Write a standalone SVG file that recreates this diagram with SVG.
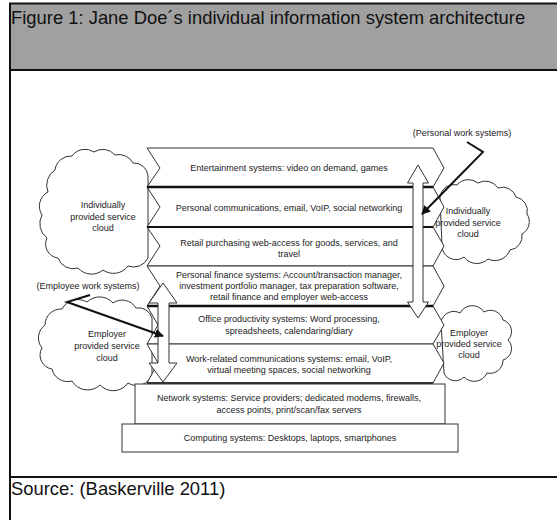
<svg xmlns="http://www.w3.org/2000/svg" width="557" height="520" viewBox="0 0 557 520">
<defs>
<style>
.t{font-family:"Liberation Sans",Arial,sans-serif;font-size:9px;fill:#222;text-anchor:middle}
.big{font-family:"Liberation Sans",Arial,sans-serif;font-size:18.4px;fill:#111}
.layer{fill:#fff;stroke:#333;stroke-width:1}
.cloud{fill:#fff;stroke:#333;stroke-width:1}
.hollow{fill:#fff;stroke:#333;stroke-width:1}
.conn{fill:none;stroke:#111;stroke-width:2}
</style>
<marker id="ah" viewBox="0 0 10 10" refX="9" refY="5" markerWidth="4.5" markerHeight="4.5" orient="auto" markerUnits="strokeWidth">
<path d="M0,0 L10,5 L0,10 z" fill="#111"/>
</marker>
</defs>
<rect width="557" height="520" fill="#fff"/>
<g id="frame">
<rect x="10" y="4" width="547" height="66" fill="#a0a0a0"/>
<line x1="9" y1="3.5" x2="557" y2="3.5" stroke="#111" stroke-width="2"/>
<line x1="9" y1="70" x2="557" y2="70" stroke="#111" stroke-width="2"/>
<line x1="9" y1="477" x2="557" y2="477" stroke="#111" stroke-width="2"/>
<line x1="10" y1="3" x2="10" y2="520" stroke="#111" stroke-width="2"/>
<text class="big" x="11" y="24">Figure 1: Jane Doe´s individual information system architecture</text>
<text class="big" x="11" y="495">Source: (Baskerville 2011)</text>
</g>
<g id="cloud-ind-left">
<path class="cloud" d="M47,238 A18,18 0 0 1 42,215 A16,16 0 0 1 48,192 A18,18 0 0 1 55,170 A16,16 0 0 1 72,156 A16,16 0 0 1 94,152 A16,16 0 0 1 115,155 A16,16 0 0 1 133,163 A14,14 0 0 1 148,176 L148,258 A16,16 0 0 1 128,266 A18,18 0 0 1 103,270 A18,18 0 0 1 78,268 A16,16 0 0 1 58,258 A14,14 0 0 1 47,238 Z"/>
<text class="t" x="103" y="208">Individually</text>
<text class="t" x="103" y="220">provided service</text>
<text class="t" x="103" y="231">cloud</text>
</g>
<g id="cloud-ind-right">
<path class="cloud" d="M440,197 A14,14 0 0 1 457,185 A15,15 0 0 1 478,183 A15,15 0 0 1 498,188 A14,14 0 0 1 516,197 A14,14 0 0 1 527,214 A14,14 0 0 1 522,234 A14,14 0 0 1 510,250 A16,16 0 0 1 488,259 A16,16 0 0 1 464,257 A14,14 0 0 1 442,246 Z"/>
<text class="t" x="468" y="214">Individually</text>
<text class="t" x="468" y="226">provided service</text>
<text class="t" x="468" y="237">cloud</text>
</g>
<g id="cloud-emp-left">
<path class="cloud" d="M42,348 A16,16 0 0 1 45,325 A16,16 0 0 1 62,309 A18,18 0 0 1 87,302 A18,18 0 0 1 113,303 A16,16 0 0 1 136,308 A14,14 0 0 1 152,318 L152,374 A16,16 0 0 1 128,383 A18,18 0 0 1 100,385 A18,18 0 0 1 72,381 A16,16 0 0 1 52,369 A14,14 0 0 1 42,348 Z"/>
<text class="t" x="107" y="337">Employer</text>
<text class="t" x="107" y="349">provided service</text>
<text class="t" x="107" y="361">cloud</text>
</g>
<g id="cloud-emp-right">
<path class="cloud" d="M441,322 A13,13 0 0 1 460,313 A14,14 0 0 1 484,312 A13,13 0 0 1 503,320 A12,12 0 0 1 508,340 A12,12 0 0 1 503,360 A13,13 0 0 1 487,373 A14,14 0 0 1 464,377 A12,12 0 0 1 444,373 Z"/>
<text class="t" x="469" y="336">Employer</text>
<text class="t" x="469" y="347">provided service</text>
<text class="t" x="469" y="358">cloud</text>
</g>
<g id="layer-entertainment">
<polygon class="layer" points="147,148 433,148 444,168 433,187 147,187 160,168"/>
<text class="t" x="289" y="171">Entertainment systems: video on demand, games</text>
</g>
<g id="layer-personal-comms">
<polygon class="layer" points="147,187 433,187 444,207 433,227 147,227 160,207"/>
<text class="t" x="289" y="211">Personal communications, email, VoIP, social networking</text>
</g>
<g id="layer-retail">
<polygon class="layer" points="147,227 433,227 444,246 433,266 147,266 160,246"/>
<text class="t" x="289" y="246">Retail purchasing web-access for goods, services, and</text>
<text class="t" x="289" y="257">travel</text>
</g>
<g id="layer-finance">
<polygon class="layer" points="147,266 433,266 444,286 433,306 147,306 160,286"/>
<text class="t" x="289" y="278">Personal finance systems: Account/transaction manager,</text>
<text class="t" x="289" y="289">investment portfolio manager, tax preparation software,</text>
<text class="t" x="289" y="300">retail finance and employer web-access</text>
</g>
<g id="layer-office">
<polygon class="layer" points="147,306 433,306 444,325 433,344 147,344 158,325"/>
<text class="t" x="289" y="322">Office productivity systems: Word processing,</text>
<text class="t" x="289" y="334">spreadsheets, calendaring/diary</text>
</g>
<g id="layer-work">
<polygon class="layer" points="147,344 433,344 444,363 433,383 147,383 158,363"/>
<text class="t" x="289" y="362">Work-related communications systems: email, VoIP,</text>
<text class="t" x="289" y="373">virtual meeting spaces, social networking</text>
</g>
<g id="separators" stroke="#111" fill="none">
<line x1="147" y1="187" x2="433" y2="187" stroke-width="2.5"/>
<line x1="147" y1="227" x2="433" y2="227" stroke-width="1.8"/>
<line x1="147" y1="306" x2="433" y2="306" stroke-width="2.5"/>
<line x1="147" y1="383" x2="433" y2="383" stroke-width="1.6"/>
</g>
<g id="layer-network">
<rect class="layer" x="135" y="384" width="310" height="40"/>
<text class="t" x="289" y="401">Network systems: Service providers; dedicated modems, firewalls,</text>
<text class="t" x="289" y="413">access points, print/scan/fax servers</text>
</g>
<g id="layer-computing">
<rect class="layer" x="122" y="424" width="336" height="28"/>
<text class="t" x="290" y="441">Computing systems: Desktops, laptops, smartphones</text>
</g>
<g id="arrow-personal">
<polygon class="hollow" points="418,165 428.5,183 423,183 423,302 428.5,302 418,318 407.5,302 413,302 413,183 407.5,183"/>
</g>
<g id="arrow-employee">
<polygon class="hollow" points="163,283 177,303 169,303 169,363 177,363 163,382 149,363 158,363 158,303 149,303"/>
</g>
<g id="label-personal-work">
<text class="t" x="462" y="136">(Personal work systems)</text>
</g>
<g id="label-employee-work">
<text class="t" x="88" y="289">(Employee work systems)</text>
</g>
<g id="connectors">
<polyline class="conn" points="467,142 483,152 422,214" marker-end="url(#ah)"/>
<polyline class="conn" points="90,295 67,302 163,336" marker-end="url(#ah)"/>
</g>
</svg>
